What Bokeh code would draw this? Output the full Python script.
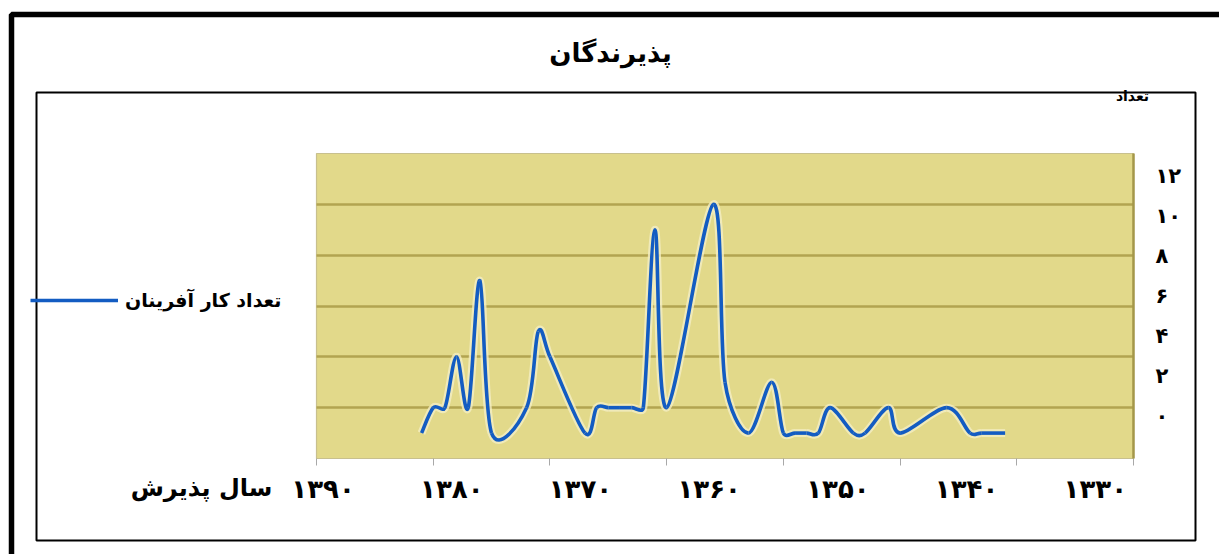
import math
from bokeh.plotting import figure
from bokeh.models import (Range1d, LinearAxis, FixedTicker, Label, BoxAnnotation,
                          Legend, LegendItem, ColumnDataSource, Grid)
from bokeh.embed import file_html
from bokeh.resources import INLINE

# ---------------- data ----------------
title_text = "پذیرندگان"
series_name = "تعداد کار آفرینان"
x_title = "سال پذیرش"
y_title = "تعداد"

years = [1381, 1380, 1379, 1378, 1377, 1376, 1375, 1372, 1371, 1370, 1367,
         1366, 1365, 1364, 1363, 1362, 1361, 1360, 1356, 1355, 1353,
         1351, 1350, 1349, 1348, 1347, 1346, 1344, 1343, 1341, 1340,
         1336, 1334, 1333, 1331]
counts = [1, 2, 2, 4, 2, 7, 1, 2, 5, 4, 1,
          2, 2, 2, 2, 2, 9, 2, 10, 3, 1,
          3, 1, 1, 1, 1, 2, 1, 1, 2, 1,
          2, 1, 1, 1]

x_grid_ticks = [1390, 1380, 1370, 1360, 1350, 1340, 1330, 1320]
x_label_ticks = [1390, 1380, 1370, 1360, 1350, 1340, 1330]
x_tick_labels = ["۱۳۹۰", "۱۳۸۰", "۱۳۷۰", "۱۳۶۰", "۱۳۵۰", "۱۳۴۰", "۱۳۳۰"]
y_ticks = [0, 2, 4, 6, 8, 10, 12]
y_tick_labels = ["۰", "۲", "۴", "۶", "۸", "۱۰", "۱۲"]
grid_ticks = [2, 4, 6, 8, 10]

# ---------------- layout constants (pixels) ----------------
W, H = 1219, 554
PL, PR, PT, PB = 316, 1133, 153, 458          # plot area edges
X0, X1 = 1390, 1320                            # plot area x extent (years, reversed)
Y0, Y1 = 0, 12
sx = (PR - PL) / (X0 - X1)                     # px per year
sy = (PB - PT) / (Y1 - Y0)                     # px per unit
# label scales (the reference's tick labels sit on their own spacing)
LX0, LSX = 322.6, 12.87                        # px of the 1390 label, px per year
LY0, LSY = 415.7, 20.0                         # px of the 0 label, px per unit
FONT = "DejaVu Sans"

x_range = Range1d(X0 + PL / sx, X0 - (W - PL) / sx)
y_range = Range1d(-(H - PB) / sy, PB / sy)

p = figure(width=W, height=H, x_range=x_range, y_range=y_range,
           output_backend="svg", toolbar_location=None,
           x_axis_location=None, y_axis_location=None,
           min_border=0, background_fill_color="white", border_fill_color="white",
           outline_line_color=None)
p.grid.visible = False

p.extra_x_ranges = {"xlab": Range1d(1390 + LX0 / LSX, 1390 - (W - LX0) / LSX)}
p.extra_y_ranges = {"ylab": Range1d(-(H - LY0) / LSY, LY0 / LSY)}

# plot area background
p.add_layout(BoxAnnotation(left=X0, right=X1, bottom=Y0, top=Y1,
                           fill_color="#E2D98A", fill_alpha=1,
                           line_color="#C8C08E", line_alpha=1, line_width=1.2,
                           level="underlay"))

# horizontal grid lines
p.add_layout(Grid(dimension=1, ticker=FixedTicker(ticks=grid_ticks),
                  cross_bounds=(X1, X0),
                  grid_line_color="#B2A450", grid_line_width=2.5))

# short tick marks below the plot area (vertical grid segments)
p.add_layout(Grid(dimension=0, ticker=FixedTicker(ticks=x_grid_ticks),
                  cross_bounds=(Y0 - 7 / sy, Y0),
                  grid_line_color="#A8A8A8", grid_line_width=1))

# bottom axis: labels
ax_lab = LinearAxis(x_range_name="xlab", ticker=FixedTicker(ticks=x_label_ticks),
                    fixed_location=Y0,
                    major_label_overrides={t: s for t, s in zip(x_label_ticks, x_tick_labels)},
                    major_tick_line_color=None, minor_tick_line_color=None,
                    axis_line_color=None, major_tick_out=0, major_tick_in=0,
                    major_label_standoff=15,
                    major_label_text_font=FONT, major_label_text_font_style="bold",
                    major_label_text_font_size="26px", major_label_text_color="black")
p.add_layout(ax_lab, "below")

# right axis: labels
ay_lab = LinearAxis(y_range_name="ylab", ticker=FixedTicker(ticks=y_ticks),
                    fixed_location=X1,
                    bounds=((LY0 - PB) / LSY, (LY0 - PT) / LSY),
                    major_label_overrides={t: s for t, s in zip(y_ticks, y_tick_labels)},
                    major_tick_line_color=None, minor_tick_line_color=None,
                    major_tick_out=0, major_tick_in=0,
                    axis_line_color="#A4974A", axis_line_width=2.5,
                    major_label_standoff=22,
                    major_label_text_font=FONT, major_label_text_font_style="bold",
                    major_label_text_font_size="21px", major_label_text_color="black")
p.add_layout(ay_lab, "right")

# ---------------- smoothed line (bezier through the data points) ----------------
PX = [(X0 - yr) * sx for yr in years]
PY = [c * sy for c in counts]
n = len(PX)


def clamp(dx, dy, m):
    L = math.hypot(dx, dy)
    if L > m and L > 0:
        s = m / L
        return dx * s, dy * s
    return dx, dy


seg = dict(x0=[], y0=[], x1=[], y1=[], cx0=[], cy0=[], cx1=[], cy1=[])
for i in range(n - 1):
    a = max(i - 1, 0)
    d = min(i + 2, n - 1)
    L = math.hypot(PX[i + 1] - PX[i], PY[i + 1] - PY[i])
    t1 = clamp((PX[i + 1] - PX[a]) / 6, (PY[i + 1] - PY[a]) / 6, 0.5 * L)
    t2 = clamp((PX[d] - PX[i]) / 6, (PY[d] - PY[i]) / 6, 0.5 * L)
    c1 = (PX[i] + t1[0], PY[i] + t1[1])
    c2 = (PX[i + 1] - t2[0], PY[i + 1] - t2[1])
    seg["x0"].append(years[i]); seg["y0"].append(counts[i])
    seg["x1"].append(years[i + 1]); seg["y1"].append(counts[i + 1])
    seg["cx0"].append(X0 - c1[0] / sx); seg["cy0"].append(c1[1] / sy)
    seg["cx1"].append(X0 - c2[0] / sx); seg["cy1"].append(c2[1] / sy)
src = ColumnDataSource(seg)

p.bezier(x0="x0", y0="y0", x1="x1", y1="y1", cx0="cx0", cy0="cy0", cx1="cx1", cy1="cy1",
         source=src, line_color="#F4EEC4", line_width=8, line_alpha=0.8)
bez = p.bezier(x0="x0", y0="y0", x1="x1", y1="y1", cx0="cx0", cy0="cy0", cx1="cx1", cy1="cy1",
               source=src, line_color="#135CC2", line_width=3.6)

# ---------------- legend ----------------
legend = Legend(items=[LegendItem(label=series_name, renderers=[bez])],
                location=(30, H - 301 - 10), orientation="vertical",
                glyph_width=88, glyph_height=20, label_standoff=7,
                padding=0, margin=0, spacing=0,
                border_line_color=None, background_fill_alpha=0,
                label_text_font=FONT, label_text_font_style="bold",
                label_text_font_size="19px", label_text_color="black")
p.add_layout(legend, "center")

# ---------------- frames ----------------
p.add_layout(BoxAnnotation(left=11, right=W + 50, top=H - 14, bottom=-50,
                           left_units="screen", right_units="screen",
                           top_units="screen", bottom_units="screen",
                           fill_alpha=0, line_color="black", line_alpha=1, line_width=5.5))
p.add_layout(BoxAnnotation(left=36, right=1195, top=H - 92, bottom=H - 540,
                           left_units="screen", right_units="screen",
                           top_units="screen", bottom_units="screen",
                           fill_alpha=0, line_color="black", line_alpha=1, line_width=2))

# ---------------- texts ----------------
p.add_layout(Label(x=610, y=H - 52, x_units="screen", y_units="screen", text=title_text,
                   text_font=FONT, text_font_style="bold", text_font_size="26px",
                   text_align="center", text_baseline="middle", text_color="black"))
p.add_layout(Label(x=1132, y=H - 95, x_units="screen", y_units="screen", text=y_title,
                   text_font=FONT, text_font_style="bold", text_font_size="14px",
                   text_align="center", text_baseline="middle", text_color="black"))
p.add_layout(Label(x=201, y=H - 487, x_units="screen", y_units="screen", text=x_title,
                   text_font=FONT, text_font_style="bold", text_font_size="24px",
                   text_align="center", text_baseline="middle", text_color="black"))

open("out.html", "w").write(file_html(p, INLINE))
